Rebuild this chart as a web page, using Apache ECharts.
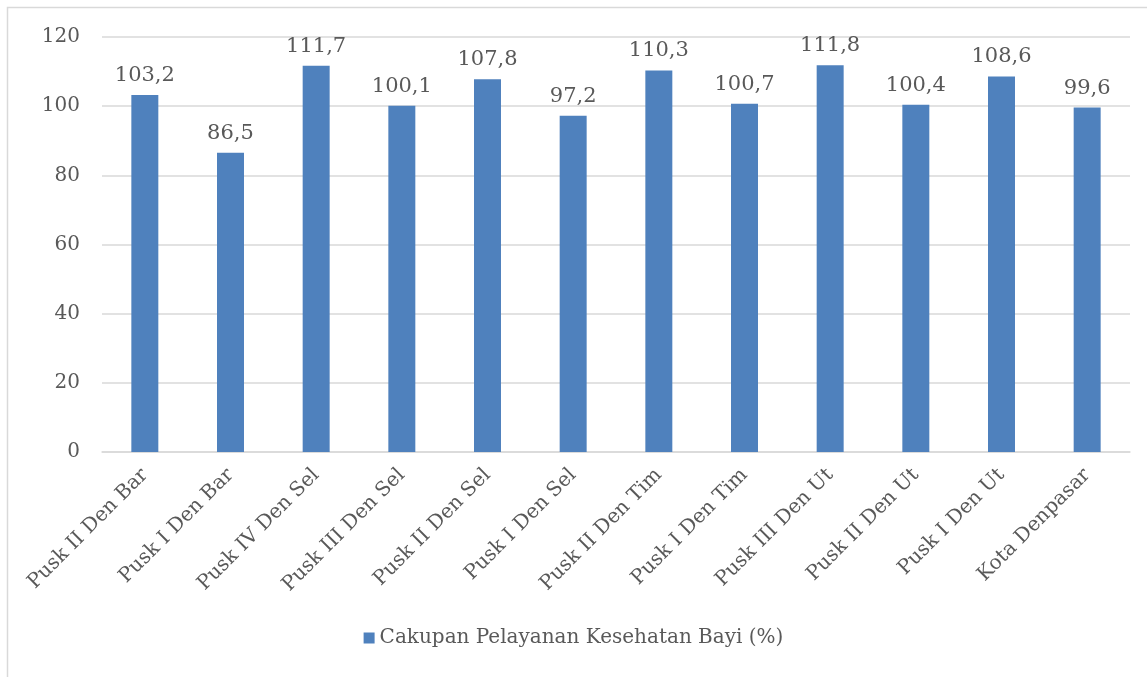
<!DOCTYPE html>
<html>
<head>
<meta charset="utf-8">
<script src="https://cdn.jsdelivr.net/npm/echarts@6/dist/echarts.min.js"></script>
<style>
  html, body { margin: 0; padding: 0; background: #fff; }
  #chart { width: 1147px; height: 677px; }
</style>
</head>
<body>
<div id="chart"></div>
<script>
var categories = ["Pusk II Den Bar", "Pusk I Den Bar", "Pusk IV Den Sel", "Pusk III Den Sel", "Pusk II Den Sel", "Pusk I Den Sel",
  "Pusk II Den Tim", "Pusk I Den Tim", "Pusk III Den Ut", "Pusk II Den Ut", "Pusk I Den Ut", "Kota Denpasar"];
var values = [103.2, 86.5, 111.7, 100.1, 107.8, 97.2, 110.3, 100.7, 111.8, 100.4, 108.6, 99.6];
var seriesName = "Cakupan Pelayanan Kesehatan Bayi (%)";

var font = "'DejaVu Serif', serif";
var chart = echarts.init(document.getElementById("chart"));
chart.setOption({
  animation: false,
  textStyle: { fontFamily: font },
  graphic: [{
    type: "rect",
    shape: { x: 7.5, y: 7.5, width: 1160, height: 700 },
    style: { fill: "none", stroke: "#d9d9d9", lineWidth: 1.5 },
    silent: true
  }],
  grid: { left: 102, right: 17, top: 37, bottom: 225 },
  legend: {
    bottom: 24,
    itemWidth: 11, itemHeight: 11, icon: "rect", itemGap: 10,
    textStyle: { fontFamily: font, fontSize: 20, color: "#595959" },
    data: [seriesName]
  },
  xAxis: {
    type: "category",
    data: categories,
    axisLine: { lineStyle: { color: "#d9d9d9", width: 1.5 } },
    axisTick: { show: false },
    axisLabel: { rotate: 45, margin: 20, fontSize: 20, color: "#595959", fontFamily: font, interval: 0 }
  },
  yAxis: {
    type: "value",
    min: 0, max: 120, interval: 20,
    axisLine: { show: false },
    axisTick: { show: false },
    splitLine: { lineStyle: { color: "#d9d9d9", width: 1.5 } },
    axisLabel: { fontSize: 20, color: "#595959", fontFamily: font, margin: 22 }
  },
  series: [{
    name: seriesName,
    type: "bar",
    data: values,
    barWidth: "31.5%",
    itemStyle: { color: "#4f81bd" },
    label: {
      show: true, position: "top", distance: 9,
      fontSize: 21, color: "#595959", fontFamily: font,
      formatter: function (p) { return String(p.value).replace(".", ","); }
    }
  }]
});
</script>
</body>
</html>
